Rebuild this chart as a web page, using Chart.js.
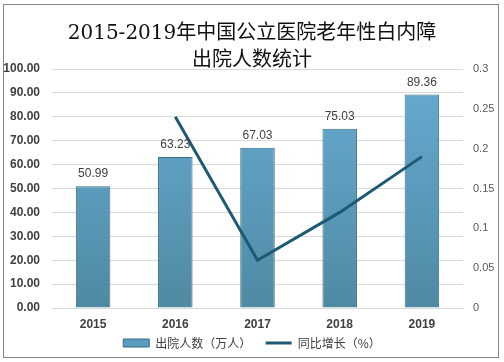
<!DOCTYPE html>
<html>
<head>
<meta charset="utf-8">
<script src="https://cdn.jsdelivr.net/npm/chart.js@4/dist/chart.umd.min.js"></script>
<style>
	html, body { margin: 0; padding: 0; background: #fff; }
	canvas { display: block; }
</style>
</head>
<body>
<canvas id="chart" width="504" height="362"></canvas>
<script>
	// data
	var years = ['2015', '2016', '2017', '2018', '2019'];
	var discharges = [50.99, 63.23, 67.03, 75.03, 89.36];
	var growth = [null, 0.24, 0.06, 0.12, 0.19];
	var titleLines = ['2015-2019年中国公立医院老年性白内障', '出院人数统计'];
	var cjk = '"Noto Sans CJK SC", "Microsoft YaHei", sans-serif';
	var tickFont = '"Liberation Sans", Arial, sans-serif';

	// value labels on top of the bars
	var barLabels = {
		id: 'barLabels',
		afterDatasetsDraw: function(chart) {
			var ctx = chart.ctx;
			var meta = chart.getDatasetMeta(0);
			ctx.save();
			ctx.font = '12px ' + tickFont;
			ctx.fillStyle = '#404040';
			ctx.textAlign = 'center';
			ctx.textBaseline = 'bottom';
			meta.data.forEach(function(bar, i) {
				ctx.fillText(discharges[i].toFixed(2), bar.x, bar.y - 6);
			});
			ctx.restore();
		}
	};

	// thin grey frame round the picture
	var frame = {
		id: 'frame',
		beforeDraw: function(chart) {
			var ctx = chart.ctx;
			ctx.save();
			ctx.fillStyle = '#fff';
			ctx.fillRect(0, 0, chart.width, chart.height);
			ctx.strokeStyle = '#858585';
			ctx.lineWidth = 1;
			ctx.strokeRect(3.5, 4.5, 495, 353);
			ctx.restore();
		}
	};

	var ctx = document.getElementById('chart').getContext('2d');
	var grad = ctx.createLinearGradient(0, 68, 0, 307);
	grad.addColorStop(0, '#67acd3');
	grad.addColorStop(1, '#4f8aa3');

	new Chart(ctx, {
		type: 'bar',
		data: {
			labels: years,
			datasets: [{
				type: 'bar',
				label: '出院人数（万人）',
				data: discharges,
				backgroundColor: grad,
				borderColor: '#3d6d84',
				borderWidth: 1,
				categoryPercentage: 1,
				barPercentage: 0.42,
				yAxisID: 'y',
				order: 2
			}, {
				type: 'line',
				label: '同比增长（%）',
				data: growth,
				borderColor: '#1d5a73',
				backgroundColor: '#1d5a73',
				borderWidth: 3,
				pointRadius: 0,
				tension: 0,
				yAxisID: 'y1',
				order: 1
			}]
		},
		options: {
			responsive: false,
			animation: false,
			layout: { padding: { left: 4, right: 4, top: 0, bottom: 3 } },
			plugins: {
				title: {
					display: true,
					text: titleLines,
					color: '#111',
					font: { family: '"DejaVu Serif", ' + cjk, size: 20, weight: 'normal', lineHeight: 1.35 },
					padding: { top: 20, bottom: -5 }
				},
				legend: {
					position: 'bottom',
					labels: {
						usePointStyle: true,
						pointStyleWidth: 26,
						boxHeight: 8,
						padding: 1,
						color: '#404040',
						font: { family: cjk, size: 12 },
						sort: function(a, b) { return a.datasetIndex - b.datasetIndex; },
						generateLabels: function(chart) {
							var items = Chart.defaults.plugins.legend.labels.generateLabels(chart);
							items.forEach(function(it) {
								if (it.datasetIndex === 0) {
									it.pointStyle = 'rect';
									it.fillStyle = '#5a9cc0';
									it.strokeStyle = '#3d6d84';
									it.lineWidth = 1;
									it.text = it.text + '     ';
								} else {
									it.pointStyle = 'line';
									it.lineWidth = 3;
								}
							});
							return items;
						}
					}
				},
				tooltip: { enabled: false }
			},
			scales: {
				x: {
					grid: { display: false, drawTicks: false },
					border: { color: '#d9d9d9' },
					ticks: { color: '#404040', font: { family: tickFont, size: 12, weight: 'bold' }, padding: 9 },
					afterFit: function(scale) { scale.height = 28; }
				},
				y: {
					position: 'left',
					min: 0,
					max: 100,
					ticks: {
						stepSize: 10,
						color: '#404040',
						padding: 12,
						font: { family: tickFont, size: 12, weight: 'bold' },
						callback: function(v) { return v.toFixed(2); }
					},
					grid: { color: '#d9d9d9', drawTicks: false },
					border: { display: false },
					afterFit: function(scale) { scale.width = 48; }
				},
				y1: {
					position: 'right',
					min: 0,
					max: 0.3,
					ticks: {
						stepSize: 0.05,
						color: '#595959',
						padding: 10,
						font: { family: tickFont, size: 11 },
						callback: function(v) { return String(Math.round(v * 100) / 100); }
					},
					grid: { display: false, drawTicks: false },
					border: { display: false },
					afterFit: function(scale) { scale.width = 37; }
				}
			}
		},
		plugins: [frame, barLabels]
	});
</script>
</body>
</html>
